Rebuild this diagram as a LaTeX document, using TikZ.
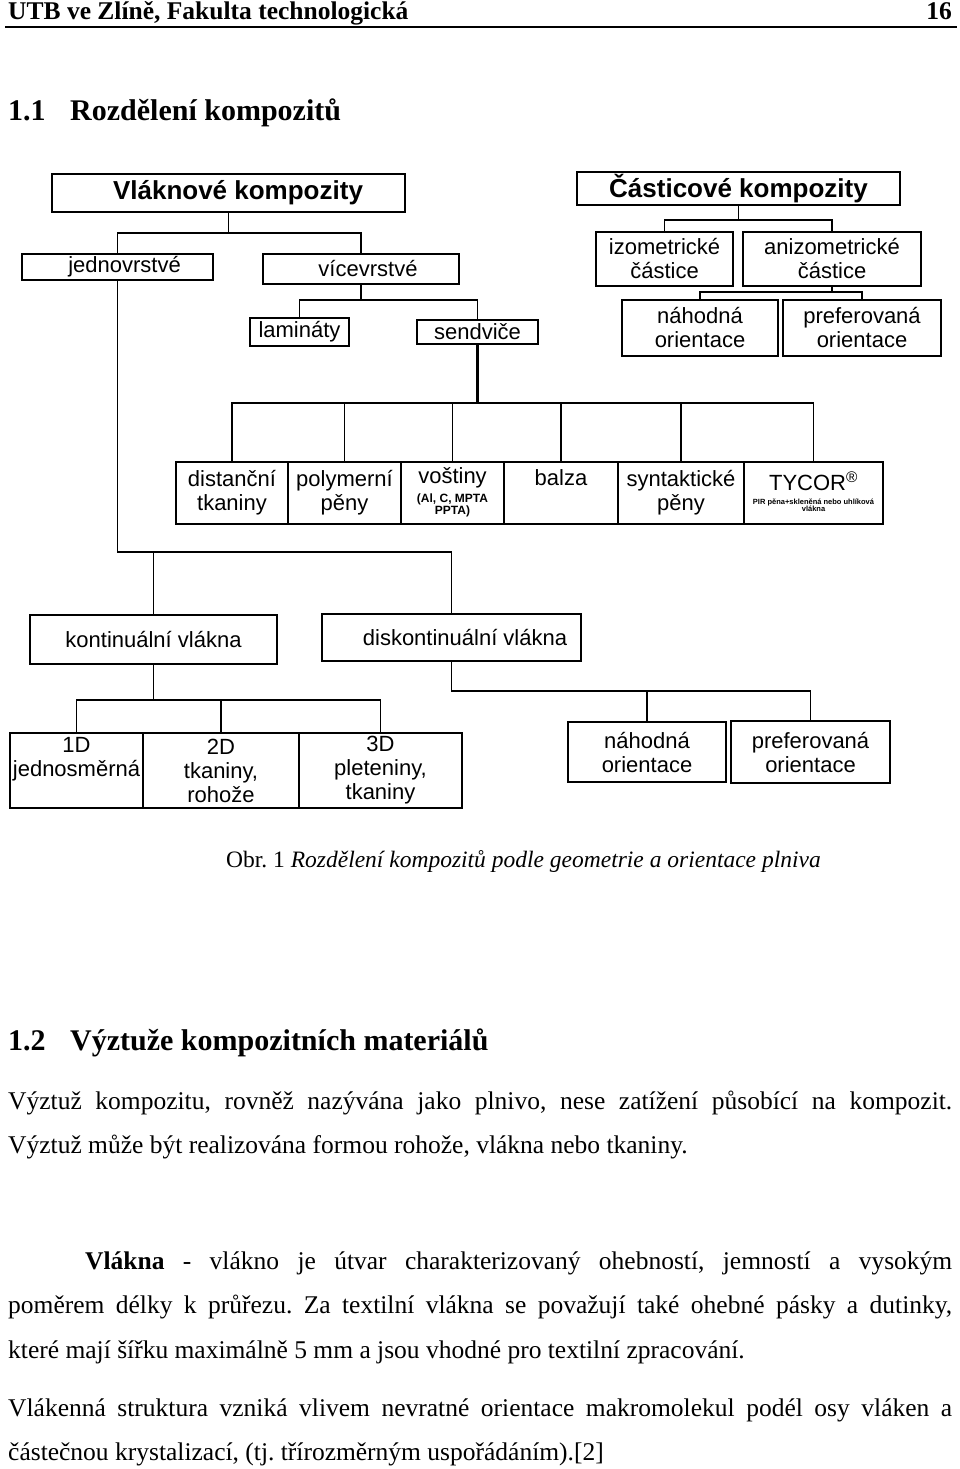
\documentclass[tikz,border=0pt]{standalone}
\usepackage{fontspec}
\setmainfont{Liberation Serif}
\newfontfamily\arialfont{Liberation Sans}
\usepackage{tikz}
\frenchspacing
\newcommand{\diagfont}[0] {\arialfont\fontsize{22}{24}\selectfont}
\newcommand{\bodyfont}[0] {\fontsize{25.5}{30}\selectfont}
\newcommand{\headfont}[0] {\fontsize{30}{34}\selectfont\bfseries}
\newcommand{\smalltab}[2] {{\arialfont\bfseries\fontsize{#1}{#1}\selectfont\begin{tabular}[t]{@{}c@{}}#2\end{tabular}}}

\tikzset{
  box/.style={draw=black, line width=1.4pt, inner sep=1pt, align=center, font=\diagfont},
  headbox/.style={box, font=\arialfont\bfseries\fontsize{26}{28}\selectfont},
  con/.style={line width=1.4pt},
  txt/.style={anchor=base west, inner sep=0pt, font=\bodyfont},
}

\begin{document}
\begin{tikzpicture}[x=1pt,y=-1pt]
        \useasboundingbox (0,0) rectangle (960,1469);

        %page header
        \node[txt, font=\bodyfont\bfseries] (hdr) at (8,20) {UTB ve Zlíně, Fakulta technologická};
        \node[anchor=base east, inner sep=0pt, font=\bodyfont\bfseries] (pg) at (952,20) {16};
        \draw[line width=1.2pt] (5,27) -- (957,27);

        \node[txt, font=\headfont] (h1n) at (8,121) {1.1};
        \node[txt, font=\headfont] (h1) at (70,121) {Rozdělení kompozitů};

        %fibre composites
        \node[headbox, minimum width=353pt, minimum height=38pt] (vlak) at (228.5,193) {\hspace*{19pt}Vláknové kompozity};
        \node[box, minimum width=191pt, minimum height=26pt] (jedn) at (117.5,267) {\hspace*{14pt}jednovrstvé};
        \node[box, minimum width=196pt, minimum height=30pt] (vice) at (361,269) {\hspace*{14pt}vícevrstvé};
        \node[box, minimum width=99pt, minimum height=28pt] (lami) at (299.5,332) {lamináty};
        \node[box, minimum width=121pt, minimum height=24pt] (send) at (477.5,332) {sendviče};

        \node[box, minimum width=112pt, minimum height=62pt] (dist) at (232,493) {distanční\\tkaniny};
        \node[box, minimum width=113pt, minimum height=62pt] (poly) at (344.5,493) {polymerní\\pěny};
        \node[box, minimum width=103pt, minimum height=62pt] (vost) at (452.5,493) {voštiny\\[-5pt]\smalltab{12}{(Al, C, MPTA\\PPTA)}};
        \node[box, minimum width=114pt, minimum height=62pt] (balz) at (561,493) {balza\\\strut};
        \node[box, minimum width=126pt, minimum height=62pt] (synt) at (681,493) {syntaktické\\pěny};
        \node[box, minimum width=139pt, minimum height=62pt] (tyco) at (813.5,493) {TYCOR\textsuperscript{®}\\[-10pt]\smalltab{7.5}{PIR pěna+skleněná nebo uhlíková\\vlákna}};

        \node[box, minimum width=247pt, minimum height=49pt] (kont) at (153.5,639.5) {kontinuální vlákna};
        \node[box, minimum width=259pt, minimum height=47pt] (disk) at (451.5,637.5) {\hspace*{27pt}diskontinuální vlákna};

        \node[box, minimum width=133pt, minimum height=75pt] (jd1) at (76.5,770.5) {1D\\jednosměrná\\[-4pt]\strut};
        \node[box, minimum width=156pt, minimum height=75pt] (jd2) at (221,770.5) {2D\\tkaniny,\\rohože};
        \node[box, minimum width=163pt, minimum height=75pt] (jd3) at (380.5,770.5) {3D\\pleteniny,\\tkaniny};
        \node[box, minimum width=158pt, minimum height=60pt] (nah2) at (647,752) {náhodná\\orientace};
        \node[box, minimum width=159pt, minimum height=62pt] (pre2) at (810.5,752) {preferovaná\\orientace};

        %particle composites
        \node[headbox, minimum width=323pt, minimum height=33pt] (cast) at (738.5,188.5) {Částicové kompozity};
        \node[box, minimum width=137pt, minimum height=54pt] (izom) at (664.5,259) {izometrické\\částice};
        \node[box, minimum width=178pt, minimum height=54pt] (aniz) at (832,259) {anizometrické\\částice};
        \node[box, minimum width=156pt, minimum height=56pt] (nah1) at (700,328) {náhodná\\orientace};
        \node[box, minimum width=158pt, minimum height=56pt] (pre1) at (862,328) {preferovaná\\orientace};

        %bar levels
        \coordinate (b1) at (0,233);
        \coordinate (b2) at (0,300);
        \coordinate (b3) at (0,403);
        \coordinate (b4) at (0,220);
        \coordinate (b5) at (0,292);
        \coordinate (b6) at (0,552);
        \coordinate (b7) at (0,700);
        \coordinate (b8) at (0,691);

        %connectors
        \draw[con] (vlak.south) -- (vlak.south |- b1);
        \draw[con] (jedn.north) |- (vice.north |- b1) -- (vice.north);
        \draw[con] (vice.south) -- (vice.south |- b2);
        \draw[con] (lami.north) |- (send.north |- b2) -- (send.north);
        \draw[con, line width=3pt] (send.south) -- (send.south |- b3);
        \draw[con] (dist.north) |- (tyco.north |- b3) -- (tyco.north);
        \foreach \n in {poly,vost,balz,synt}
            \draw[con] (\n.north) -- (\n.north |- b3);

        \draw[con] (cast.south) -- (cast.south |- b4);
        \draw[con] (izom.north) |- (aniz.north |- b4) -- (aniz.north);
        \draw[con] (aniz.south) -- (aniz.south |- b5);
        \draw[con] (nah1.north) |- (pre1.north |- b5) -- (pre1.north);

        \draw[con] (jedn.south) |- (disk.north |- b6) -- (disk.north);
        \draw[con] (kont.north) -- (kont.north |- b6);
        \draw[con] (kont.south) -- (kont.south |- b7);
        \draw[con] (jd1.north) |- (jd3.north |- b7) -- (jd3.north);
        \draw[con] (jd2.north) -- (jd2.north |- b7);
        \draw[con] (disk.south) |- (pre2.north |- b8) -- (pre2.north);
        \draw[con] (nah2.north) -- (nah2.north |- b8);

        %caption and text
        \node[txt, font=\fontsize{23.5}{28}\selectfont] (cap) at (226,867) {Obr. 1 \textit{Rozdělení kompozitů podle geometrie a orientace plniva}};

        \node[txt, font=\headfont] (h2n) at (8,1050) {1.2};
        \node[txt, font=\headfont] (h2) at (70,1050) {Výztuže kompozitních materiálů};

        \node[txt] (p1a) at (8,1109) {\makebox[944pt][s]{Výztuž kompozitu, rovněž nazývána jako plnivo, nese zatížení působící na kompozit.}};
        \node[txt] (p1b) at (8,1153) {Výztuž může být realizována formou rohože, vlákna nebo tkaniny.};

        \node[txt] (p2a) at (85,1269) {\makebox[867pt][s]{\textbf{Vlákna} - vlákno je útvar charakterizovaný ohebností, jemností a vysokým}};
        \node[txt] (p2b) at (8,1313) {\makebox[944pt][s]{poměrem délky k průřezu. Za textilní vlákna se považují také ohebné pásky a dutinky,}};
        \node[txt] (p2c) at (8,1358) {které mají šířku maximálně 5 mm a jsou vhodné pro textilní zpracování.};

        \node[txt] (p3a) at (8,1416) {\makebox[944pt][s]{Vlákenná struktura vzniká vlivem nevratné orientace makromolekul podél osy vláken a}};
        \node[txt] (p3b) at (8,1460) {částečnou krystalizací, (tj. třírozměrným uspořádáním).[2]};
\end{tikzpicture}
\end{document}
